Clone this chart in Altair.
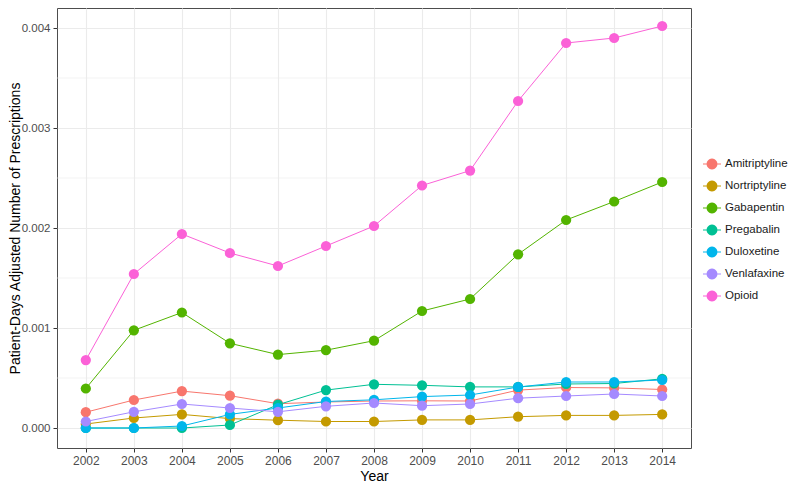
import math
import altair as alt
import pandas as pd

years = [str(y) for y in range(2002, 2015)]
drugs = ["Amitriptyline", "Nortriptyline", "Gabapentin", "Pregabalin",
         "Duloxetine", "Venlafaxine", "Opioid"]
colors = ["#F8766D", "#C49A00", "#53B400", "#00C094", "#00B6EB", "#A58AFF", "#FB61D7"]

amitriptyline = [0.000158, 0.000280, 0.000369, 0.000323, 0.000243, 0.000260, 0.000270,
                 0.000272, 0.000270, 0.000379, 0.000405, 0.000401, 0.000385]
nortriptyline = [0.000040, 0.000100, 0.000136, 0.000094, 0.000078, 0.000065, 0.000065,
                 0.000081, 0.000081, 0.000113, 0.000126, 0.000126, 0.000136]
gabapentin = [0.000395, 0.000977, 0.001155, 0.000847, 0.000734, 0.000778, 0.000873,
              0.001170, 0.001290, 0.001737, 0.002080, 0.002265, 0.002460]
pregabalin = [0.000000, 0.000000, 0.000000, 0.000030, 0.000233, 0.000379, 0.000437,
              0.000427, 0.000411, 0.000411, 0.000440, 0.000445, 0.000492]
duloxetine = [0.000000, 0.000000, 0.000020, 0.000136, 0.000200, 0.000265, 0.000282,
              0.000314, 0.000330, 0.000410, 0.000460, 0.000460, 0.000480]
venlafaxine = [0.000065, 0.000162, 0.000240, 0.000200, 0.000162, 0.000217, 0.000250,
               0.000223, 0.000240, 0.000298, 0.000320, 0.000340, 0.000320]
opioid = [0.000679, 0.001540, 0.001940, 0.001750, 0.001620, 0.001820, 0.002020,
          0.002425, 0.002574, 0.003270, 0.003850, 0.003900, 0.004020]

series = [amitriptyline, nortriptyline, gabapentin, pregabalin, duloxetine, venlafaxine, opioid]

y_major = [0.000, 0.001, 0.002, 0.003, 0.004]
y_minor = [0.0005, 0.0015, 0.0025, 0.0035]

rows = []
for d, vals in zip(drugs, series):
    for yr, v in zip(years, vals):
        rows.append({"Year": yr, "Drug": d, "Series": d, "Value": v})
df = pd.DataFrame(rows)
minor_df = pd.DataFrame({"Value": y_minor})

FONT = "Liberation Sans"
W, H = 634, 440

x_enc = alt.X(
    "Year:O", sort=years,
    scale=alt.Scale(type="point", padding=0.6),
    axis=alt.Axis(title="Year", labelAngle=0, grid=True, tickSize=4, labelPadding=3,
                  labelFontSize=12,
                  titleX=W / 2, titleY=32, titleBaseline="alphabetic", titleAlign="center"),
)
y_enc = alt.Y(
    "Value:Q",
    scale=alt.Scale(domain=[-0.0002, 0.0042], nice=False, zero=False),
    axis=alt.Axis(title="Patient-Days Adjusted Number of Prescriptions", values=y_major,
                  format=".3f", grid=True, tickSize=4, labelPadding=3, labelFontSize=11.5,
                  titleX=-42, titleY=H / 2, titleAngle=270, titleBaseline="middle",
                  titleAlign="center"),
)

# legend key: a filled dot with a short line through it (polygon path)
r = 0.6
poly = []
for i in range(24):
    a = 2 * math.pi * i / 24
    poly.append(f"{r * math.cos(a):.3f},{r * math.sin(a):.3f}")
circle_path = "M" + "L".join(poly) + "Z"
legend_symbol = ("M-1,-0.06L-0.58,-0.06L-0.58,0.06L-1,0.06Z"
                 "M0.58,-0.06L1,-0.06L1,0.06L0.58,0.06Z" + circle_path)

minor = alt.Chart(minor_df).mark_rule(color="#EBEBEB", strokeWidth=0.6).encode(
    y=alt.Y("Value:Q", scale=alt.Scale(domain=[-0.0002, 0.0042], nice=False, zero=False))
)

lines = alt.Chart(df).mark_line(strokeWidth=1).encode(
    x=x_enc, y=y_enc,
    stroke=alt.Stroke("Series:N", sort=drugs, scale=alt.Scale(range=colors), legend=None),
)

points = alt.Chart(df).mark_point(filled=True, size=105, opacity=1).encode(
    x=x_enc, y=y_enc,
    color=alt.Color(
        "Drug:N", sort=drugs, scale=alt.Scale(domain=drugs, range=colors),
        legend=alt.Legend(title=None, orient="none", legendX=645, legendY=146,
                          symbolType=legend_symbol, symbolSize=324,
                          labelFont=FONT, labelFontSize=11.5, labelColor="#1A1A1A",
                          labelOffset=3, rowPadding=6, padding=0),
    ),
)

chart = alt.layer(minor, lines, points).properties(
    width=W, height=H,
    autosize=alt.AutoSizeParams(type="none"),
    padding={"left": 49, "top": 0, "right": 101, "bottom": 34},
).configure_view(
    stroke="#4D4D4D", strokeWidth=1, fill="white"
).configure_axis(
    domain=False, gridColor="#EBEBEB", gridWidth=1.1,
    tickColor="#333333", tickWidth=1,
    labelFont=FONT, labelColor="#4D4D4D",
    titleFont=FONT, titleFontSize=14, titleFontWeight="normal", titleColor="#000000",
)

chart.save("out.html", embed_options={"renderer": "svg", "actions": False})
